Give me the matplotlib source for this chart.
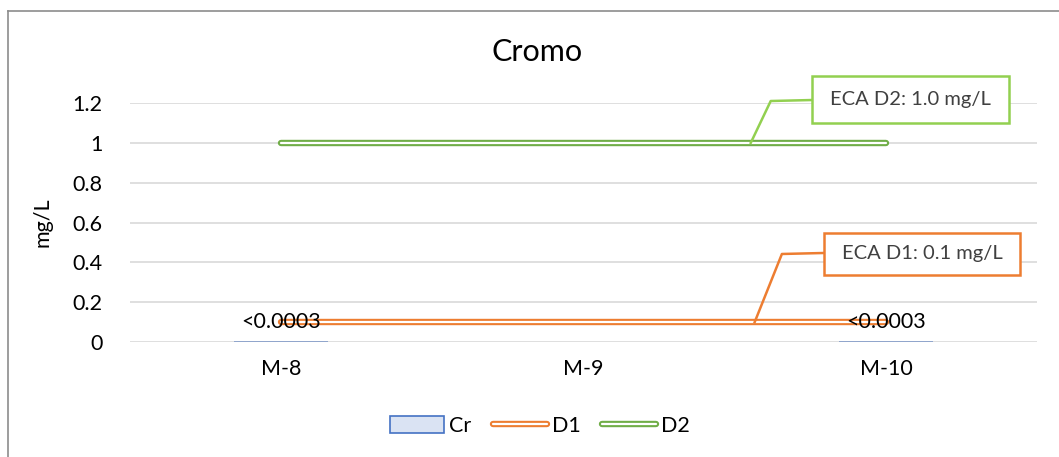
import matplotlib
matplotlib.use("Agg")
import matplotlib.pyplot as plt
import matplotlib.patheffects as pe
from matplotlib.patches import Rectangle, Patch
from matplotlib.lines import Line2D
import numpy as np

plt.rcParams['font.family'] = ['Lato', 'DejaVu Sans']

categories = ['M-8', 'M-9', 'M-10']
cr_values = [0.0, np.nan, 0.0]
cr_labels = ['<0.0003', '', '<0.0003']
d1_values = [0.1, 0.1, 0.1]
d2_values = [1.0, 1.0, 1.0]
yticks = [0, 0.2, 0.4, 0.6, 0.8, 1.0, 1.2]
ytick_labels = ['0', '0.2', '0.4', '0.6', '0.8', '1', '1.2']
title = 'Cromo'
ylabel = 'mg/L'
callout_d1 = 'ECA D1: 0.1 mg/L'
callout_d2 = 'ECA D2: 1.0 mg/L'

orange = '#ED7D31'
green_line = '#70AD47'
green_call = '#92D050'
bar_fill = '#DAE3F3'
bar_edge = '#8FA5CC'
grid_c = '#D9D9D9'
FS = 15.5

fig = plt.figure(figsize=(10.59, 4.57), dpi=100)
ax = fig.add_axes([0.1228, 0.2516, 0.8565, 0.523])

x = np.arange(len(categories))
bars = ax.bar(x, cr_values, width=0.31, color=bar_fill, edgecolor=bar_edge, linewidth=1.4, zorder=2)
for xi, v, lab in zip(x, cr_values, cr_labels):
    if lab:
        ax.annotate(lab, (xi, 0), xytext=(0, 7), textcoords='offset points',
                    ha='center', va='bottom', fontsize=FS, color='black', zorder=5)

ax.plot(x, d1_values, color='white', lw=1.6, solid_capstyle='round', zorder=3,
        path_effects=[pe.Stroke(linewidth=4.6, foreground=orange, capstyle='round'), pe.Normal()])
ax.plot(x, d2_values, color='white', lw=1.6, solid_capstyle='round', zorder=3,
        path_effects=[pe.Stroke(linewidth=4.6, foreground=green_line, capstyle='round'), pe.Normal()])

ax.set_xlim(-0.5, 2.5)
ax.set_ylim(0, 1.2)
ax.set_yticks(yticks)
ax.set_yticklabels(ytick_labels)
ax.set_xticks(x)
ax.set_xticklabels(categories)
ax.tick_params(axis='both', length=0, labelsize=FS)
ax.tick_params(axis='y', pad=20)
ax.tick_params(axis='x', pad=12)
for lab in ax.get_xticklabels() + ax.get_yticklabels():
    lab.set_color('black')
ax.yaxis.grid(True, color=grid_c, lw=1.2)
ax.set_axisbelow(True)
for s in ax.spines.values():
    s.set_visible(False)
ax.set_ylabel(ylabel, fontsize=FS, labelpad=14)
fig.text(537 / 1059, (457 - 52) / 457, title, ha='center', va='center', fontsize=22)

# callouts
ax.plot([1.553, 1.619, 1.755], [1.0, 1.21, 1.215], color=green_call, lw=1.8, clip_on=False, zorder=4)
ax.add_patch(Rectangle((1.755, 1.099), 0.652, 0.236, fill=True, facecolor='white',
                       edgecolor=green_call, lw=1.8, clip_on=False, zorder=4))
ax.text(2.081, 1.217, callout_d2, ha='center', va='center', fontsize=14.5, color='#404040',
        clip_on=False, zorder=5)

ax.plot([1.566, 1.656, 1.795], [0.1, 0.442, 0.447], color=orange, lw=1.8, clip_on=False, zorder=4)
ax.add_patch(Rectangle((1.795, 0.336), 0.649, 0.211, fill=True, facecolor='white',
                       edgecolor=orange, lw=1.8, clip_on=False, zorder=4))
ax.text(2.12, 0.442, callout_d1, ha='center', va='center', fontsize=14.5, color='#404040',
        clip_on=False, zorder=5)

# legend
h_cr = Patch(facecolor=bar_fill, edgecolor='#4472C4', lw=1.2, label='Cr')
h_d1 = Line2D([], [], color='white', lw=1.6, solid_capstyle='round', label='D1',
              path_effects=[pe.Stroke(linewidth=4.6, foreground=orange, capstyle='round'), pe.Normal()])
h_d2 = Line2D([], [], color='white', lw=1.6, solid_capstyle='round', label='D2',
              path_effects=[pe.Stroke(linewidth=4.6, foreground=green_line, capstyle='round'), pe.Normal()])
fig.legend(handles=[h_cr, h_d1, h_d2], loc='center', bbox_to_anchor=(540 / 1059, 0.068), ncol=3,
           frameon=False, fontsize=FS, handlelength=2.5, handletextpad=0.25, columnspacing=1.0,
           handleheight=0.8)

# border
fig.add_artist(Line2D([7.5 / 1059, 7.5 / 1059], [0, (457 - 11) / 457], color='#8C8C8C', lw=1.2,
                      transform=fig.transFigure))
fig.add_artist(Line2D([7.5 / 1059, 1], [(457 - 11) / 457, (457 - 11) / 457], color='#8C8C8C', lw=1.2,
                      transform=fig.transFigure))

fig.savefig('out.png', dpi=100)
